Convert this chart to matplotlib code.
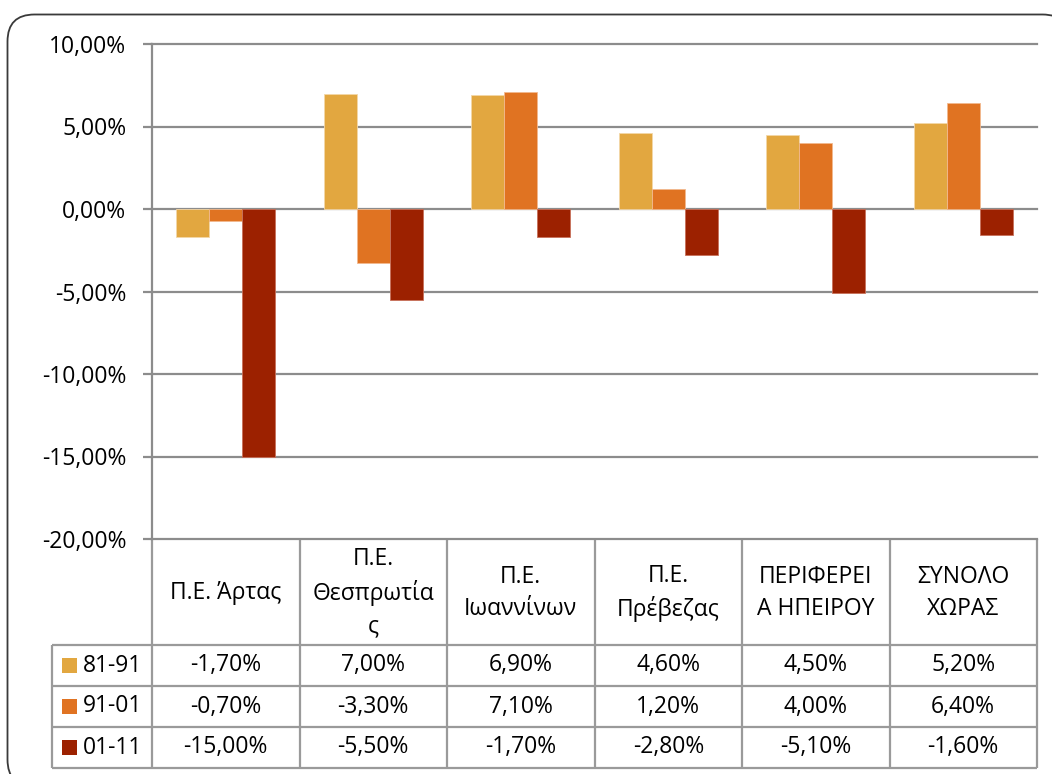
import matplotlib
matplotlib.use('Agg')
import matplotlib.pyplot as plt
from matplotlib.patches import FancyBboxPatch, Rectangle
from matplotlib import transforms
import numpy as np

plt.rcParams['font.family'] = ['Open Sans', 'DejaVu Sans']

categories = ["Π.Ε. Άρτας", "Π.Ε.\nΘεσπρωτία\nς", "Π.Ε.\nΙωαννίνων",
              "Π.Ε.\nΠρέβεζας", "ΠΕΡΙΦΕΡΕΙ\nΑ ΗΠΕΙΡΟΥ", "ΣΥΝΟΛΟ\nΧΩΡΑΣ"]
series_names = ["81-91", "91-01", "01-11"]
s8191 = [-1.7, 7.0, 6.9, 4.6, 4.5, 5.2]
s9101 = [-0.7, -3.3, 7.1, 1.2, 4.0, 6.4]
s0111 = [-15.0, -5.5, -1.7, -2.8, -5.1, -1.6]
series = [s8191, s9101, s0111]
colors = ['#E2A740', '#E07322', '#9C2100']
edges = ['#F3D7A8', '#F2B98E', '#C8705A']
yticks = [-20, -15, -10, -5, 0, 5, 10]


def pct(v):
    return f"{v:.2f}".replace('.', ',') + '%'


W, H = 1052, 774
fig = plt.figure(figsize=(W / 100, H / 100), dpi=100)

ov = fig.add_axes([0, 0, 1, 1], zorder=0)
ov.set_xlim(0, W)
ov.set_ylim(H, 0)
ov.set_autoscale_on(False)
ov.axis('off')

# outer rounded frame
frame = FancyBboxPatch((7.5, 14.5), 1062, 772,
                       boxstyle="round,pad=0,rounding_size=27",
                       facecolor='white', edgecolor='#3a3a3a', lw=1.3)
ov.add_patch(frame)

top_px, bot_px, left_px, right_px = 44, 539, 152, 1037
ax = fig.add_axes([left_px / W, (H - bot_px) / H, (right_px - left_px) / W,
                   (bot_px - top_px) / H], zorder=1)
ax.patch.set_alpha(0)

n = len(categories)
x = np.arange(n)
bw = 33 / 147.5
for k, (vals, c, ec) in enumerate(zip(series, colors, edges)):
    ax.bar(x + (k - 1) * bw, vals, bw, color=c, edgecolor=ec, lw=0.6, zorder=3)

ax.set_xlim(-0.5, n - 0.5)
ax.set_ylim(-20, 10)
ax.set_yticks(yticks)
ax.set_yticklabels([pct(v) for v in yticks])
ax.set_xticks([])
ax.yaxis.grid(True, color='#8c8c8c', lw=1.6, zorder=1)
for gl in ax.get_ygridlines():
    gl.set_clip_on(False)
for s in ['top', 'right', 'bottom']:
    ax.spines[s].set_visible(False)
ax.spines['left'].set_color('#8c8c8c')
ax.spines['left'].set_linewidth(1.6)
ax.tick_params(axis='y', length=6.5, width=1.6, color='#8c8c8c', pad=12,
               labelsize=16.5, labelcolor='black')

# data table
trans = transforms.blended_transform_factory(ax.transData, ov.transData)
gc = '#9a9a9a'
glw = 1.6
row_b = [645, 686, 727, 768]
for b in np.arange(-0.5, n, 1.0):
    ov.plot([b, b], [bot_px, row_b[-1]], transform=trans, color=gc, lw=glw,
            solid_capstyle='butt')
ov.plot([52, 52], [row_b[0], row_b[-1]], color=gc, lw=glw, solid_capstyle='butt')
for yb in row_b:
    ov.plot([52, right_px], [yb, yb], color=gc, lw=glw, solid_capstyle='butt')

for i, cat in enumerate(categories):
    ov.text(i, 593, cat, transform=trans, ha='center', va='center',
            fontsize=16.5, linespacing=1.45)

for r, (name, vals, c) in enumerate(zip(series_names, series, colors)):
    yc = (row_b[r] + row_b[r + 1]) / 2
    ov.add_patch(Rectangle((62, yc - 7.5), 15, 15, facecolor=c, edgecolor='none'))
    ov.text(83, yc, name, ha='left', va='center', fontsize=16.5)
    for i, v in enumerate(vals):
        ov.text(i, yc, pct(v), transform=trans, ha='center', va='center',
                fontsize=16.5)

fig.savefig('out.png', dpi=100)
